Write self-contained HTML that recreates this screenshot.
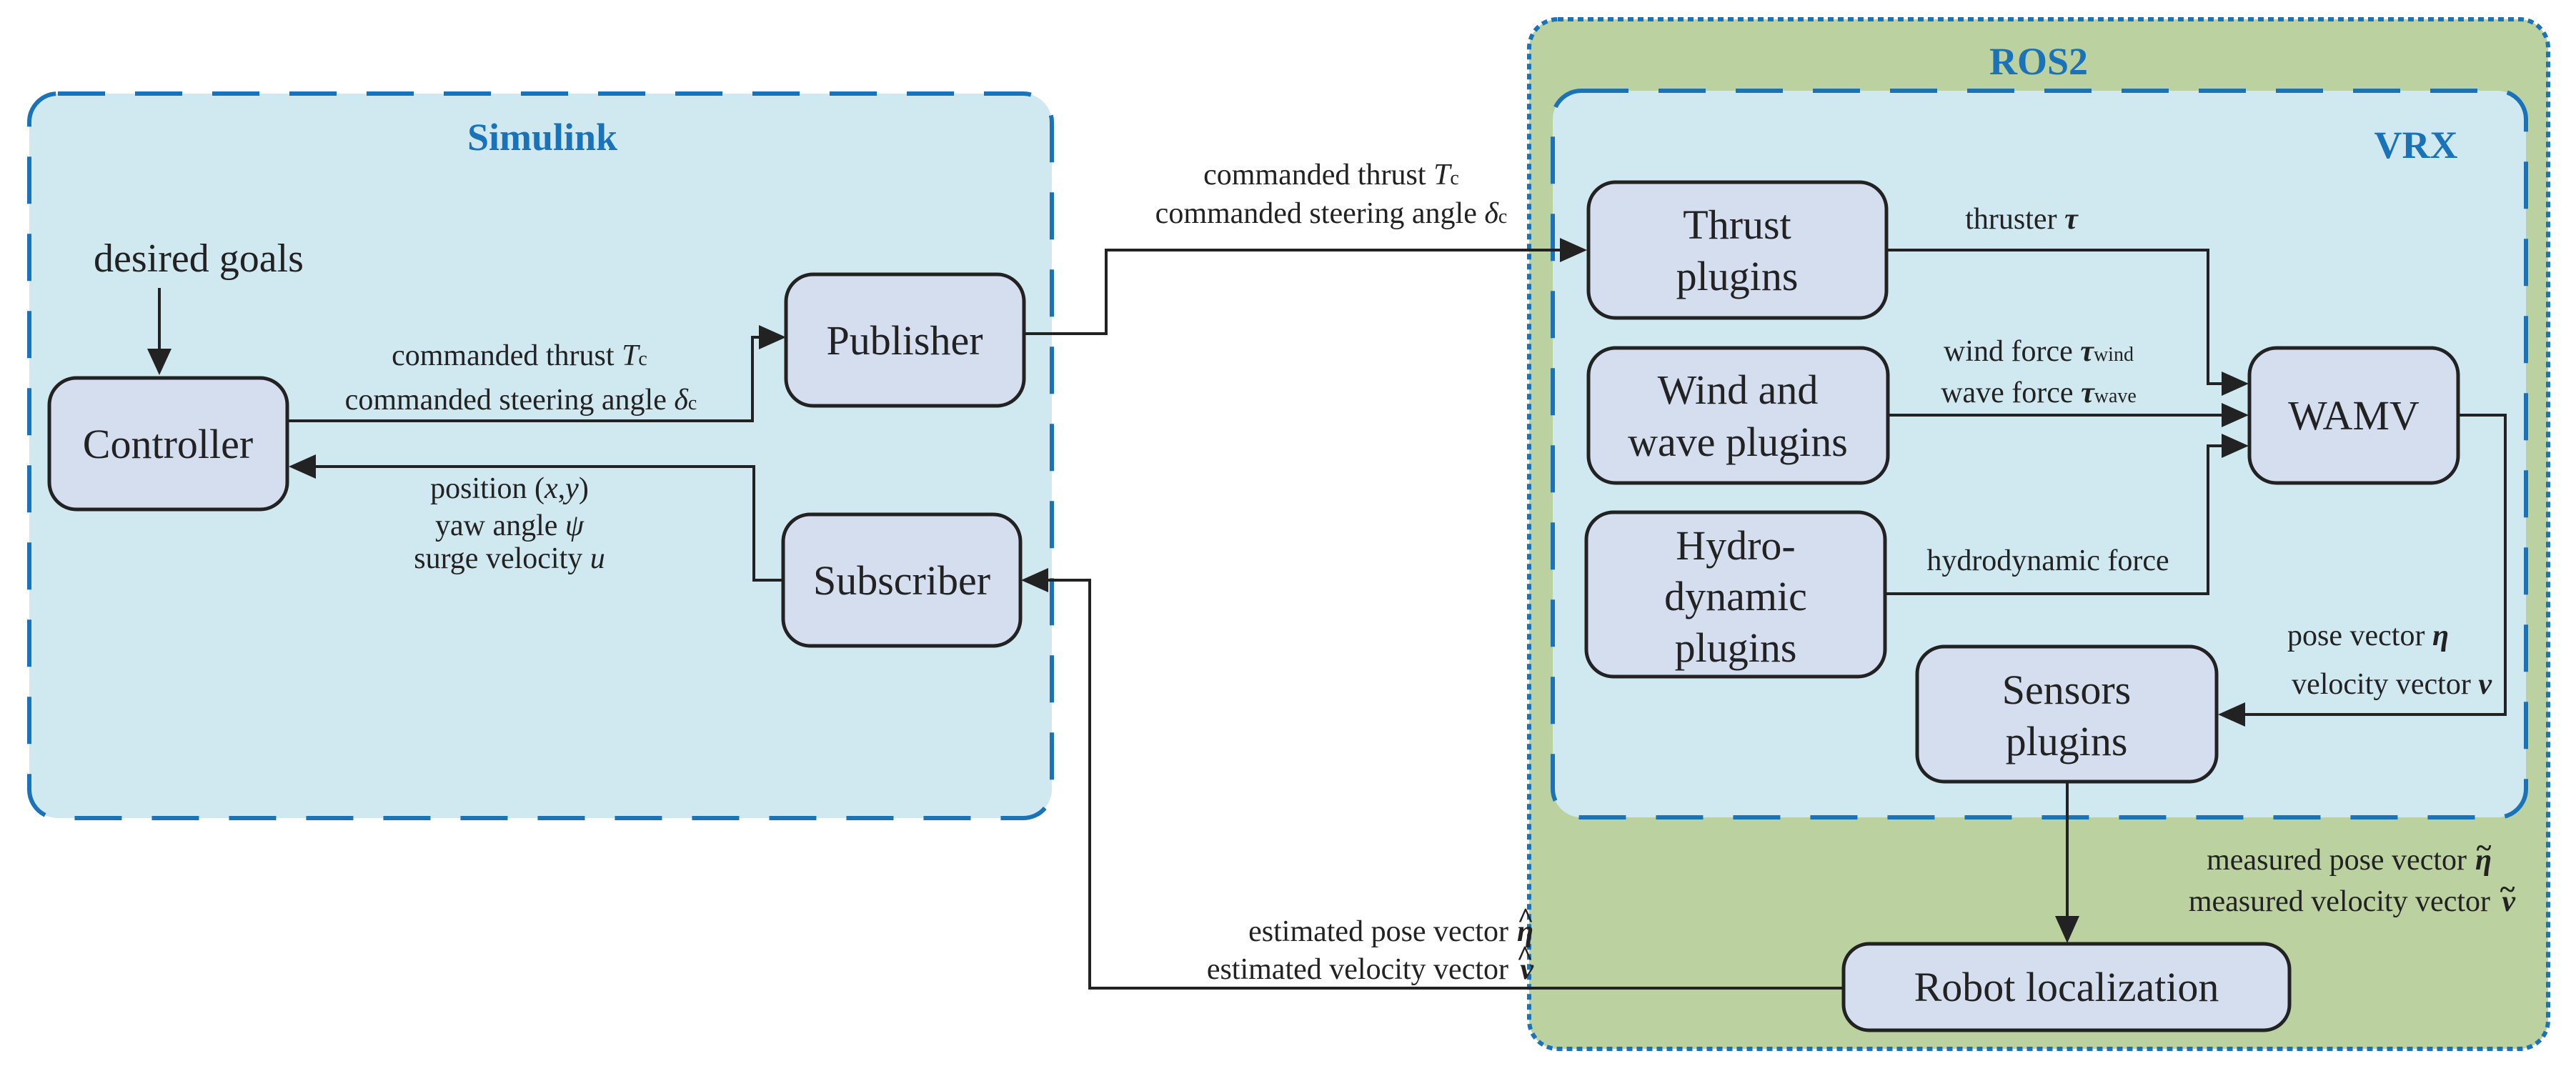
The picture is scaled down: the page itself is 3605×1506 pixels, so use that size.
<!DOCTYPE html>
<html><head><meta charset="utf-8"><style>
html,body{margin:0;padding:0;background:#fff;}
svg{display:block;}
text{font-family:"Liberation Serif",serif;fill:#222;}
.b{font-size:58px;text-anchor:middle;}
.l{font-size:42px;text-anchor:middle;}
.e{font-size:42px;text-anchor:end;}
.s{font-size:42px;text-anchor:end;font-weight:bold;font-style:italic;}
.acc{font-size:40px;text-anchor:middle;font-weight:bold;}
.t{font-size:54px;font-weight:bold;fill:#1a73b9;text-anchor:middle;}
.box{fill:#d5deef;stroke:#222;stroke-width:5;}
.ln{fill:none;stroke:#222;stroke-width:4;}
</style></head><body>
<svg width="3605" height="1506" viewBox="0 0 3605 1506" xmlns="http://www.w3.org/2000/svg">
<rect x="41" y="131" width="1431" height="1014" rx="40" fill="#d0e9f1" stroke="#1a73b9" stroke-width="6" stroke-dasharray="66,42"/>
<text class="t" x="759" y="210">Simulink</text>
<rect x="2140" y="27" width="1426" height="1441" rx="40" fill="#bbd19f" stroke="#1a73b9" stroke-width="6" stroke-dasharray="8,6"/>
<text class="t" x="2853" y="104">ROS2</text>
<rect x="2173" y="127" width="1362" height="1017" rx="40" fill="#d0e9f1" stroke="#1a73b9" stroke-width="6" stroke-dasharray="66,42"/>
<text class="t" x="3381" y="221">VRX</text>

<rect class="box" x="69" y="529" width="333" height="184" rx="38"/>
<text class="b" x="235" y="641">Controller</text>
<rect class="box" x="1100" y="384" width="333" height="184" rx="38"/>
<text class="b" x="1266" y="496">Publisher</text>
<rect class="box" x="1096" y="720" width="332" height="184" rx="38"/>
<text class="b" x="1262" y="832">Subscriber</text>

<rect class="box" x="2223" y="255" width="417" height="190" rx="38"/>
<text class="b" x="2431" y="334">Thrust</text><text class="b" x="2431" y="406">plugins</text>
<rect class="box" x="2223" y="487" width="419" height="189" rx="38"/>
<text class="b" x="2432" y="565">Wind and</text><text class="b" x="2432" y="638">wave plugins</text>
<rect class="box" x="2220" y="717" width="418" height="230" rx="38"/>
<text class="b" x="2429" y="783">Hydro-</text><text class="b" x="2429" y="854">dynamic</text><text class="b" x="2429" y="926">plugins</text>
<rect class="box" x="3148" y="487" width="292" height="189" rx="38"/>
<text class="b" x="3294" y="601">WAMV</text>
<rect class="box" x="2683" y="905" width="419" height="189" rx="38"/>
<text class="b" x="2892" y="985">Sensors</text><text class="b" x="2892" y="1057">plugins</text>
<rect class="box" x="2580" y="1321" width="624" height="121" rx="36"/>
<text class="b" x="2892" y="1401">Robot localization</text>

<path class="ln" d="M223 403 V490"/><polygon points="223,525 206,488 240,488" fill="#222"/>
<text class="l" x="278" y="380" style="font-size:56px">desired goals</text>
<path class="ln" d="M402 589 H1053 V472 H1065"/><polygon points="1100,472 1062,455 1062,489" fill="#222"/>
<text class="l" x="727" y="511">commanded thrust <tspan font-style="italic">T</tspan><tspan font-size="28">c</tspan></text>
<text class="l" x="729" y="573">commanded steering angle <tspan font-style="italic">δ</tspan><tspan font-size="28">c</tspan></text>
<path class="ln" d="M1096 812 H1055 V653 H440"/><polygon points="404,653 442,636 442,670" fill="#222"/>
<text class="l" x="713" y="697">position (<tspan font-style="italic">x</tspan>,<tspan font-style="italic">y</tspan>)</text>
<text class="l" x="713" y="749">yaw angle <tspan font-style="italic">ψ</tspan></text>
<text class="l" x="713" y="795">surge velocity <tspan font-style="italic">u</tspan></text>

<path class="ln" d="M1433 467 H1548 V350 H2185"/><polygon points="2221,350 2183,333 2183,367" fill="#222"/>
<text class="l" x="1863" y="258">commanded thrust <tspan font-style="italic">T</tspan><tspan font-size="28">c</tspan></text>
<text class="l" x="1863" y="312">commanded steering angle <tspan font-style="italic">δ</tspan><tspan font-size="28">c</tspan></text>

<path class="ln" d="M2640 350 H3090 V537 H3112"/><polygon points="3147,537 3109,520 3109,554" fill="#222"/>
<text class="l" x="2829" y="320">thruster <tspan font-weight="bold" font-style="italic">τ</tspan></text>
<path class="ln" d="M2642 581 H3112"/><polygon points="3147,581 3109,564 3109,598" fill="#222"/>
<text class="l" x="2853" y="505">wind force <tspan font-weight="bold" font-style="italic">τ</tspan><tspan font-size="28">wind</tspan></text>
<text class="l" x="2853" y="563">wave force <tspan font-weight="bold" font-style="italic">τ</tspan><tspan font-size="28">wave</tspan></text>
<path class="ln" d="M2638 831 H3090 V624 H3112"/><polygon points="3147,624 3109,607 3109,641" fill="#222"/>
<text class="l" x="2866" y="798">hydrodynamic force</text>
<path class="ln" d="M3440 581 H3506 V1000 H3140"/><polygon points="3104,1000 3142,983 3142,1017" fill="#222"/>
<text class="l" x="3314" y="903">pose vector <tspan font-weight="bold" font-style="italic">η</tspan></text>
<text class="l" x="3487" y="971" style="text-anchor:end">velocity vector <tspan font-weight="bold" font-style="italic">ν</tspan></text>
<path class="ln" d="M2893 1094 V1285"/><polygon points="2893,1320 2876,1282 2910,1282" fill="#222"/>

<text class="e" x="3452" y="1217">measured pose vector</text>
<text class="s" x="3487" y="1217">η</text><text class="acc" x="3476" y="1200">~</text>
<text class="e" x="3485" y="1275">measured velocity vector</text>
<text class="s" x="3520" y="1275">ν</text><text class="acc" x="3509" y="1258">~</text>

<path class="ln" d="M2580 1383 H1525 V812 H1465"/><polygon points="1429,812 1467,795 1467,829" fill="#222"/>
<text class="e" x="2111" y="1317">estimated pose vector</text>
<text class="s" x="2146" y="1317">η</text><text class="acc" x="2135" y="1298">^</text>
<text class="e" x="2111" y="1370">estimated velocity vector</text>
<text class="s" x="2146" y="1370">ν</text><text class="acc" x="2134" y="1351">^</text>
</svg>
</body></html>
